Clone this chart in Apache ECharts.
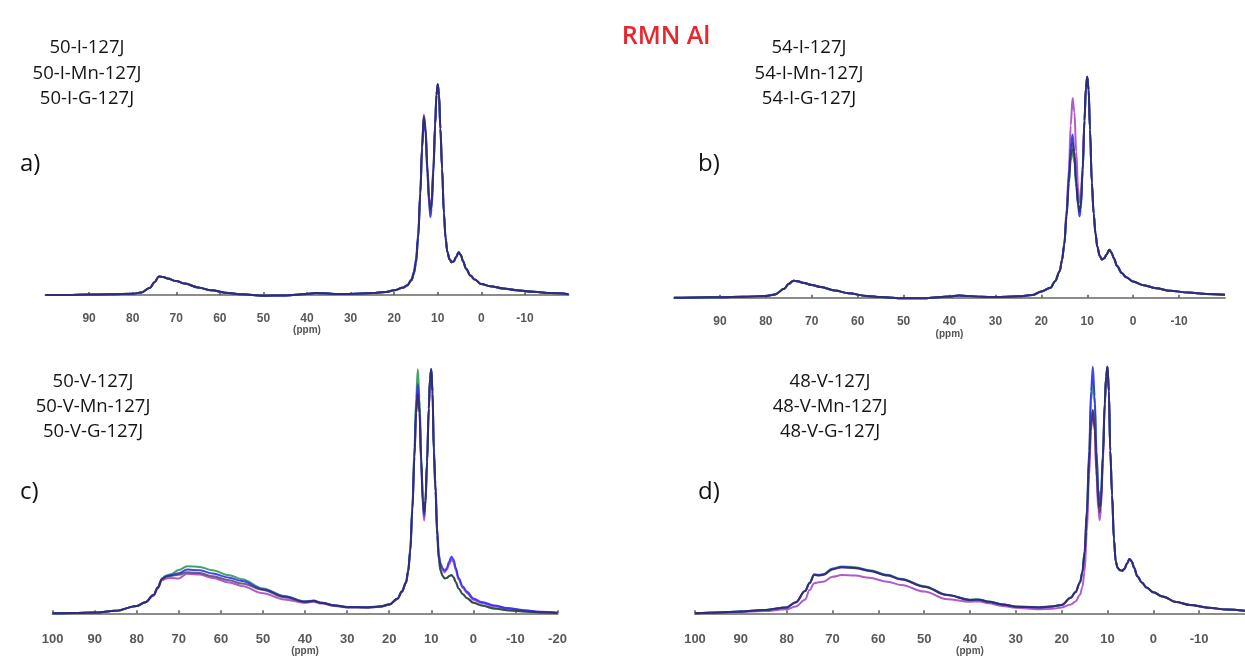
<!DOCTYPE html>
<html><head><meta charset="utf-8">
<script src="https://cdn.jsdelivr.net/npm/echarts@6/dist/echarts.min.js"></script>
<style>html,body{margin:0;padding:0;background:#fff}#c{width:1245px;height:660px}</style>
</head><body><div id="c"></div>
<script>
// chemical shift grid (ppm), shared by all spectra
const ppm = [100,95,90,85,80,78,76,75,74,73,72,70,68,65,62,58,55,50,45,40,38,36,33,30,25,22,20,18,17,16,15.5,15,14.5,14,13.6,13.2,12.8,12.4,12,11.7,11.4,11,10.6,10.3,10,9.7,9.4,9,8.6,8.2,7.8,7.3,6.8,6.3,5.8,5.2,4.7,4.2,3.5,2.5,1.5,0,-2,-5,-8,-12,-16,-20];

// panel a) intensities (normalised, tallest peak = 100)
const aBlack  = [0,0,0.2,0.3,0.6,1.2,3.5,6.0,8.8,8.6,7.8,6.6,5.4,3.6,2.2,0.9,0.3,-0.3,-0.2,0.5,0.9,0.8,0.5,0.5,0.9,1.4,2.2,3.4,4.5,7,10,15,27,48,70,85,79,61,46,40.5,44,60,81,95,100,95,79,60,39,27,20.5,17,15.5,16,18,20.3,19,16,12.5,9.2,7.3,5.2,4.2,3.1,2.3,1.5,0.9,0.4];
const aBlue   = [0,0,0.2,0.3,0.6,1.2,3.5,6.0,8.8,8.6,7.8,6.6,5.4,3.6,2.2,0.9,0.3,-0.3,-0.2,0.5,0.9,0.8,0.5,0.5,0.9,1.4,2.3,3.6,4.8,7.5,11,17,29,49,70,84,77,58,44,37,41,58,80,95,100,95,79,60,39,27,20.5,17,15.5,16,18,20.3,19,16,12.5,9.2,7.3,5.2,4.2,3.1,2.3,1.5,0.9,0.4];
const aGreen  = [0,0,0.2,0.3,0.6,1.2,3.5,6.0,8.8,8.6,7.8,6.6,5.4,3.6,2.2,0.9,0.3,-0.3,-0.2,0.5,0.9,0.8,0.5,0.5,0.9,1.4,2.2,3.4,4.5,7,10,15,27,48,69,84,78,60,45,39,43,59,81,95,100,95,79,60,39,27,20.5,17,15.5,16,18,20.3,19,16,12.5,9.2,7.3,5.2,4.2,3.1,2.3,1.5,0.9,0.4];
const aPurple = [0,0,0.2,0.3,0.6,1.2,3.5,6.0,8.8,8.6,7.8,6.6,5.4,3.6,2.2,0.9,0.3,-0.3,-0.2,0.5,0.9,0.8,0.5,0.5,0.9,1.4,2.2,3.4,4.5,7,10,15,27,48,71,85.5,80,62,47,41,45,61,81,95,100,95,79,60,39,27,20.5,17,15.5,16,18,20.3,19,16,12.5,9.2,7.3,5.2,4.2,3.1,2.3,1.5,0.9,0.4];

// panel b)
const bBlack  = [0,0.1,0.2,0.4,0.8,1.5,4,6.3,7.7,7.4,6.8,5.8,4.8,3.3,2.0,0.8,0.3,-0.3,-0.2,0.5,1.0,0.8,0.4,0.3,0.6,1.2,2.8,4.5,7.5,12,17,24,37,52,64,70,64,52,43,39,42,58,80,95,100,94,76,52,38,29,23,19,17.3,17.8,19.5,21.7,20.3,17.8,14.3,11.2,9.3,7.3,5.8,4.3,3.2,2.3,1.7,1.3];
const bBlue   = [0,0.1,0.2,0.4,0.8,1.5,4,6.3,7.7,7.4,6.8,5.8,4.8,3.3,2.0,0.8,0.3,-0.3,-0.2,0.5,1.0,0.8,0.4,0.3,0.6,1.2,2.8,4.5,7.5,12,17,24,38,55,68,73.8,66,52,42,36.8,40,57,80,95,100,94,76,52,38,29,23,19,17.3,17.8,19.5,21.7,20.3,17.8,14.3,11.2,9.3,7.3,5.8,4.3,3.2,2.3,1.7,1.3];
const bGreen  = [0,0.1,0.2,0.4,0.8,1.5,4,6.3,7.7,7.4,6.8,5.8,4.8,3.3,2.0,0.8,0.3,-0.3,-0.2,0.5,1.0,0.8,0.4,0.3,0.6,1.2,2.8,4.5,7.5,12,17,24,37,52,62,67,61,50,42,39,42,58,80,95,100,94,76,52,38,29,23,19,17.3,17.8,19.5,21.7,20.3,17.8,14.3,11.2,9.3,7.3,5.8,4.3,3.2,2.3,1.7,1.3];
const bPurple = [0,0.1,0.2,0.4,0.8,1.5,4,6.3,7.7,7.4,6.8,5.8,4.8,3.3,2.0,0.8,0.3,-0.3,-0.2,0.5,1.0,0.8,0.4,0.3,0.6,1.2,2.8,4.5,7.5,12,17,25,40,58,78,90.4,84,66,50,43,45,60,81,95,100,94,76,52,38,29,23,19,17.3,17.8,19.5,21.7,20.3,17.8,14.3,11.2,9.3,7.3,5.8,4.3,3.2,2.3,1.7,1.3];

// panel c)
const cBlack  = [0,0.1,0.3,1.0,3.0,4.5,7.5,10.5,14.0,15.0,15.3,15.8,16.8,16.5,15.2,13.5,12.2,9.6,6.6,4.6,5.0,4.2,3.2,2.5,2.4,2.8,3.6,6,8.8,12.5,17,25,42,64,82,90,82,62,46,41.5,46,62,84,96,100,90,66,50,32,22,17.5,15.3,14.3,14.5,15.2,15.7,14.8,12.8,10.2,7.8,6.2,4.3,3.2,2.0,1.3,0.7,0.3,0.1];
const cBlue   = [0,0.1,0.3,1.0,3.0,4.5,7.5,10.6,14.1,15.2,15.6,16.4,17.9,17.6,16.3,14.6,13.2,9.9,7.0,4.8,5.1,4.3,3.3,2.6,2.5,2.9,3.7,6.1,9,12.8,17.5,26,43,65,85,94,85,63,46,40,45,62,84,96,100,91,68,53,35,24,20.5,18.5,17.5,18.5,21,23.2,22,18.8,14.5,11,8.8,6.1,4.6,3.2,2.2,1.3,0.6,0.2];
const cGreen  = [0,0.1,0.3,1.0,3.0,4.5,7.6,10.8,14.3,15.5,16,17.7,19.3,19.0,17.6,15.6,14.0,10.2,7.1,4.9,5.2,4.3,3.2,2.5,2.4,2.8,3.6,6,8.8,12.5,17,26,44,68,88,100,88,65,47,41,46,62,84,96,100,90,66,50,32,22,17.5,15.3,14.3,14.5,15.2,15.7,14.8,12.8,10.2,7.8,6.2,4.3,3.2,2.0,1.3,0.7,0.3,0.1];
const cPurple = [0,0.1,0.3,1.0,3.0,4.4,7.2,10.2,13.5,14.3,14.5,14.3,16.2,15.9,14.5,12.6,11.2,8.2,5.7,4.3,4.7,4.0,3.0,2.4,2.3,2.7,3.5,5.9,8.7,12.4,17,25,42,64,82,90,82,61,44,38,44,61,84,96,100,91,67,52,34,23,19.5,17.6,16.8,17.8,20,22,21,17.8,13.8,10.4,8.2,5.6,4.2,2.9,2.0,1.1,0.5,0.2];

// panel d)
const dBlack  = [0,0.3,0.7,1.3,2.4,4.5,9,12.2,15.5,15.3,15.5,17.8,18.6,18.3,17.2,15.3,13.7,10.8,7.4,5.4,5.5,4.7,3.6,2.7,2.4,2.8,3.4,6.3,8.5,12.5,16.5,24,40,62,76,82.4,75,58,45,41,46,63,85,96,100,90,66,48,30,21,18.5,17.5,17.3,18,20,22,21,18.5,15,12.5,10.5,8.5,6.8,4.6,3.4,2.3,1.5,1.0];
const dBlue   = [0,0.3,0.7,1.3,2.4,4.5,9,12.3,15.6,15.4,15.7,18.0,18.8,18.4,17.3,15.4,13.8,10.8,7.4,5.4,5.5,4.7,3.6,2.7,2.4,2.8,3.4,6.3,8.5,12.5,16.5,25,42,66,90,100,88,66,49,43.2,47,64,85,96,100,90,66,48,30,21,18.5,17.5,17.3,18,20,22,21,18.5,15,12.5,10.5,8.5,6.8,4.6,3.4,2.3,1.5,1.0];
const dGreen  = [0,0.3,0.7,1.3,2.4,4.5,9,12.4,15.8,15.6,15.9,18.2,19.0,18.7,17.5,15.6,14.0,11.0,7.5,5.5,5.6,4.8,3.7,2.8,2.5,2.9,3.5,6.4,8.6,12.6,16.6,25,41,64,86,94.6,85,65,50,46,50,65,86,96,100,90,66,48,30,21,18.5,17.5,17.3,18,20,22,21,18.5,15,12.5,10.5,8.5,6.8,4.6,3.4,2.3,1.5,1.0];
const dPurple = [0,0.2,0.5,0.9,1.6,2.8,5.5,9.4,12.2,12.6,12.8,14.8,15.5,15.3,14.4,12.8,11.5,8.8,5.7,4.7,4.8,4.1,3.0,2.2,1.6,1.8,2.4,3.6,4.8,7.5,10.5,17,33,56,74,82.4,74,55,42,37.8,43,61,84,96,100,90,66,48,30,21,18.5,17.5,17.3,18,20,22,21,18.5,15,12.5,10.5,8.5,6.8,4.6,3.4,2.3,1.5,1.0];

// axis tick labels
const ticksAB = [90,80,70,60,50,40,30,20,10,0,-10];
const ticksC  = [100,90,80,70,60,50,40,30,20,10,0,-10,-20];
const ticksD  = [100,90,80,70,60,50,40,30,20,10,0,-10];

// texts
const title = 'RMN Al';
const legendA = ['50-I-127J','50-I-Mn-127J','50-I-G-127J'];
const legendB = ['54-I-127J','54-I-Mn-127J','54-I-G-127J'];
const legendC = ['50-V-127J','50-V-Mn-127J','50-V-G-127J'];
const legendD = ['48-V-127J','48-V-Mn-127J','48-V-G-127J'];
const panelTags = ['a)','b)','c)','d)'];

const colors = {black:'#30284a', green:'#2f9a55', blue:'#3030f0', purple:'#a848c8'};
const opac = {black:0.72, green:0.9, blue:0.9, purple:0.9};
const drawOrder = ['purple','green','blue','black'];

// layout (pixels)
const panels = [
  {left:45.5, right:568.5, axisY:309.5, baseY:295, peakY:84.3, ticks:ticksAB, font:12, nameGap:6, margin:3,
   series:{black:aBlack, green:aGreen, blue:aBlue, purple:aPurple}, legend:legendA, lx:87, ly:[48,74,99], tag:[20,164]},
  {left:674, right:1225, axisY:313, baseY:297.7, peakY:76.7, ticks:ticksAB, font:12, nameGap:6, margin:3,
   series:{black:bBlack, green:bGreen, blue:bBlue, purple:bPurple}, legend:legendB, lx:809, ly:[48,74,99], tag:[698,164]},
  {left:52.6, right:557.5, axisY:627.5, baseY:613.3, peakY:369.3, ticks:ticksC, font:13, nameGap:10, margin:5,
   series:{black:cBlack, green:cGreen, blue:cBlue, purple:cPurple}, legend:legendC, lx:93, ly:[382,407,432], tag:[20,492]},
  {left:695, right:1245, axisY:627.5, baseY:613.3, peakY:366.7, ticks:ticksD, font:13, nameGap:10, margin:5,
   series:{black:dBlack, green:dGreen, blue:dBlue, purple:dPurple}, legend:legendD, lx:830, ly:[382,407,432], tag:[698,492]}
];

const grid=[], xAxis=[], yAxis=[], series=[], graphic=[];
panels.forEach((p,i)=>{
  const top = p.peakY - 12;
  const s = (p.baseY - p.peakY)/100;
  const ymin = -(p.axisY - p.baseY)/s;
  const ymax = ymin + (p.axisY - top)/s;
  grid.push({left:p.left, top:top, width:p.right-p.left, height:p.axisY-top});
  xAxis.push({
    type:'value', gridIndex:i, inverse:true, min:-20, max:100, interval:10,
    name:'(ppm)', nameLocation:'middle', nameGap:p.nameGap,
    nameTextStyle:{fontFamily:'Liberation Sans', fontWeight:'bold', fontSize:10, color:'#555'},
    axisLine:{show:true, lineStyle:{color:'#8c8c8c', width:2}},
    axisTick:{show:true, inside:true, length:3, customValues:p.ticks, lineStyle:{color:'#555', width:1.5}},
    axisLabel:{show:true, customValues:p.ticks, margin:p.margin, fontFamily:'Liberation Sans', fontWeight:'bold', fontSize:p.font, color:'#585858'},
    splitLine:{show:false}
  });
  yAxis.push({type:'value', gridIndex:i, min:ymin, max:ymax, show:false, splitLine:{show:false}});
  drawOrder.forEach(k=>{
    series.push({
      type:'line', xAxisIndex:i, yAxisIndex:i, name:k, showSymbol:false, symbol:'none',
      smooth:0.35, smoothMonotone:'x', silent:true,
      lineStyle:{color:colors[k], width:2, opacity:opac[k]},
      data: ppm.map((v,j)=>[v, p.series[k][j]])
    });
  });
  p.legend.forEach((t,j)=>{
    graphic.push({type:'text', x:p.lx, y:p.ly[j], style:{text:t, fill:'#151515', font:'18.5px "Open Sans"', textAlign:'center', textVerticalAlign:'middle'}});
  });
  graphic.push({type:'text', x:p.tag[0], y:p.tag[1], style:{text:panelTags[i], fill:'#111', font:'24px "Open Sans"', textAlign:'left', textVerticalAlign:'middle'}});
});
graphic.push({type:'text', x:666, y:37, style:{text:title, fill:'#e8262d', font:'600 25px "Open Sans"', textAlign:'center', textVerticalAlign:'middle'}});

const chart = echarts.init(document.getElementById('c'), null, {renderer:'canvas'});
chart.setOption({animation:false, backgroundColor:'#fff', grid, xAxis, yAxis, series, graphic});
</script>
</body></html>
